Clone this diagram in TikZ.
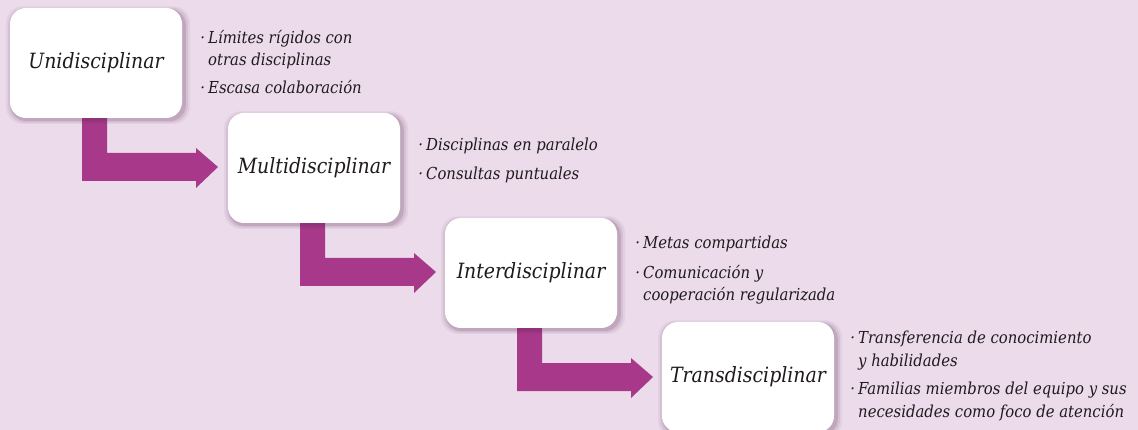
\documentclass[tikz,border=0pt]{standalone}
\usepackage{fontspec}
\setmainfont{DejaVu Serif Condensed}
\usetikzlibrary{calc,shadows}
\definecolor{bg}{HTML}{EBDBEB}
\definecolor{arrc}{HTML}{A8388A}
\definecolor{shc}{HTML}{5A2E55}
\definecolor{txt}{HTML}{1E1A1E}
\tikzset{
  box/.style={fill=white, rounded corners=16pt, minimum width=172pt, minimum height=110pt,
    inner sep=0pt, font=\fontsize{21}{26}\selectfont\itshape, text=txt,
    general shadow={shadow xshift=2pt, shadow yshift=-2pt, shadow scale=1.07, fill=shc, opacity=0.06},
    general shadow={shadow xshift=2pt, shadow yshift=-2pt, shadow scale=1.045, fill=shc, opacity=0.10},
    general shadow={shadow xshift=2pt, shadow yshift=-2pt, shadow scale=1.02, fill=shc, opacity=0.16}},
  notes/.style={anchor=north west, inner sep=0pt, align=left, text=txt,
    font=\fontsize{16.5}{22.5}\selectfont\itshape},
  arr/.style={fill=arrc}
}
\newcommand{\bul}{\llap{·\hspace{3pt}}}
\begin{document}
\begin{tikzpicture}[x=1pt,y=-1pt]
\fill[bg] (0,0) rectangle (1138,430);
\useasboundingbox (0,0) rectangle (1138,430);
\clip (0,0) rectangle (1138,430);
\path (96,63) coordinate (c1) (314,168) coordinate (c2) (531,273) coordinate (c3) (748,377) coordinate (c4);
\foreach \i in {1,2,3}{
  \fill[arr] ($(c\i)+(-14,50)$) -- ++(25,0) -- ++(0,40) -- ++(89,0) -- ++(0,-5)
     -- ++(22,19) -- ++(-22,21) -- ++(0,-7) -- ++(-114,0) -- cycle;
}
\node[box] (b1) at (c1) {Unidisciplinar};
\node[box] (b2) at (c2) {Multidisciplinar};
\node[box] (b3) at (c3) {Interdisciplinar};
\node[box] (b4) at (c4) {Transdisciplinar};
\node[notes] (n1) at (208,30) {\bul Límites rígidos con\\otras disciplinas\\[5pt]\bul Escasa colaboración};
\node[notes] (n2) at (426,138) {\bul Disciplinas en paralelo\\[6pt]\bul Consultas puntuales};
\node[notes] (n3) at (643,236) {\bul Metas compartidas\\[7pt]\bul Comunicación y\\cooperación regularizada};
\node[notes] (n4) at (858,331) {\bul Transferencia de conocimiento\\y habilidades\\[6pt]\bul Familias miembros del equipo y sus\\necesidades como foco de atención};
\end{tikzpicture}
\end{document}
